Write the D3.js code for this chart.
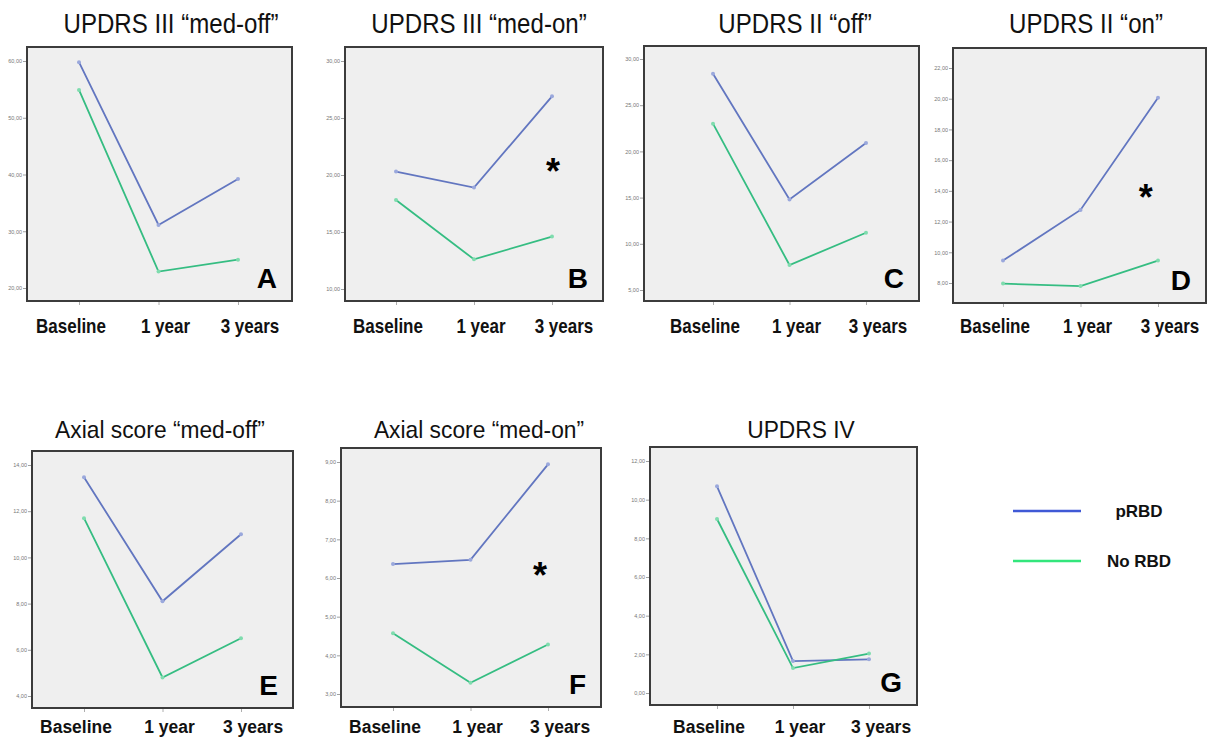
<!DOCTYPE html>
<html>
<head>
<meta charset="utf-8">
<script src="https://cdn.jsdelivr.net/npm/d3@7"></script>
<style>
  body { margin: 0; background: #fff; }
  svg { display: block; font-family: "Liberation Sans", Arial, sans-serif; }
</style>
</head>
<body>
<div id="chart"></div>
<script>
// Data
var categories = ["Baseline", "1 year", "3 years"];
var panelTitles = ["UPDRS III \u201cmed-off\u201d", "UPDRS III \u201cmed-on\u201d", "UPDRS II \u201coff\u201d", "UPDRS II \u201con\u201d",
    "Axial score \u201cmed-off\u201d", "Axial score \u201cmed-on\u201d", "UPDRS IV"];
var panelLetters = ["A", "B", "C", "D", "E", "F", "G"];
var seriesNames = ["pRBD", "No RBD"];

var pRBDValues = [
    [59.8, 31.1, 39.2],
    [20.3, 18.9, 26.9],
    [28.4, 14.8, 20.9],
    [9.46, 12.76, 20.06],
    [13.47, 8.1, 11.0],
    [6.36, 6.47, 8.94],
    [10.69, 1.65, 1.74]
];
var noRBDValues = [
    [54.9, 22.9, 25.0],
    [17.8, 12.6, 14.6],
    [23.0, 7.7, 11.2],
    [7.96, 7.8, 9.46],
    [11.7, 4.8, 6.5],
    [4.57, 3.29, 4.28],
    [9.0, 1.29, 2.04]
];
var yTicks = [
    [20, 30, 40, 50, 60],
    [10, 15, 20, 25, 30],
    [5, 10, 15, 20, 25, 30],
    [8, 10, 12, 14, 16, 18, 20, 22],
    [4, 6, 8, 10, 12, 14],
    [3, 4, 5, 6, 7, 8, 9],
    [0, 2, 4, 6, 8, 10, 12]
];
// panels with a significance star
var starPanels = ["B", "D", "F"];

// Layout (pixel boxes of each frame)
var frames = [
    { x0: 27, x1: 292, y0: 47, y1: 301, p0: 79, p2: 238, tx: 171, padT: 14, padB: 13, row: 0 },
    { x0: 345, x1: 603, y0: 47, y1: 301, p0: 396, p2: 552, tx: 479, padT: 14, padB: 12, row: 0 },
    { x0: 644, x1: 919, y0: 46, y1: 301, p0: 713, p2: 866, tx: 795, padT: 13, padB: 11, row: 0 },
    { x0: 953, x1: 1206, y0: 48, y1: 303, p0: 1003, p2: 1158, tx: 1086, padT: 20, padB: 20, row: 0 },
    { x0: 32, x1: 293, y0: 451, y1: 708, p0: 84, p2: 241, tx: 160, padT: 14, padB: 12, row: 1 },
    { x0: 341, x1: 601, y0: 448, y1: 707, p0: 393, p2: 548, tx: 479, padT: 14, padB: 13, row: 1 },
    { x0: 650, x1: 917, y0: 447, y1: 705, p0: 717, p2: 869, tx: 801, padT: 14, padB: 12, row: 1 }
];
var starPos = { B: [0.806, 0.458], D: [0.762, 0.553], F: [0.765, 0.46] };
var rowStyle = [
    { titleY: 33, titleSize: 28, titleSx: 0.86, labelY: 333, labelSize: 21, labelSx: 0.81 },
    { titleY: 438, titleSize: 24, titleSx: 0.95, labelY: 733, labelSize: 19, labelSx: 0.92 }
];
var labelDx = [-8, 7, 12];

var lineColors = ["#6276c0", "#35bd82"];
var markColors = ["#9aa8dc", "#7fdcae"];
var legendColors = ["#4059d6", "#33e67c"];

var svg = d3.select("#chart").append("svg").attr("width", 1211).attr("height", 738);

var fmt = function (v) { return d3.format(".2f")(v).replace(".", ","); };

// squeezed text helper
function squeezed(g, x, y, txt, size, sx, weight) {
    return g.append("text")
        .attr("transform", "translate(" + x + "," + y + ") scale(" + sx + ",1)")
        .attr("text-anchor", "middle")
        .attr("font-size", size)
        .attr("font-weight", weight)
        .attr("fill", "#111")
        .text(txt);
}

frames.forEach(function (f, i) {
    var st = rowStyle[f.row];
    var g = svg.append("g");

    var x = d3.scalePoint().domain(categories).range([f.p0, f.p2]);
    var y = d3.scaleLinear()
        .domain(d3.extent(yTicks[i]))
        .range([f.y1 - f.padB, f.y0 + f.padT]);

    // frame
    g.append("rect")
        .attr("x", f.x0).attr("y", f.y0)
        .attr("width", f.x1 - f.x0).attr("height", f.y1 - f.y0)
        .attr("fill", "#efefef")
        .attr("stroke", "#3c3c3c")
        .attr("stroke-width", 2);

    // y axis (tiny SPSS style labels)
    var yAxis = g.append("g")
        .attr("transform", "translate(" + (f.x0 - 1) + ",0)")
        .call(d3.axisLeft(y).tickValues(yTicks[i]).tickFormat(fmt).tickSize(3).tickPadding(1));
    yAxis.select(".domain").remove();
    yAxis.selectAll("line").attr("stroke", "#888").attr("stroke-width", 0.8);
    yAxis.selectAll("text").attr("font-size", 5.5).attr("fill", "#777")
        .attr("font-family", "Liberation Sans, Arial, sans-serif");

    // x axis ticks below frame
    var xAxis = g.append("g")
        .attr("transform", "translate(0," + (f.y1 + 1) + ")")
        .call(d3.axisBottom(x).tickSize(3).tickFormat(""));
    xAxis.select(".domain").remove();
    xAxis.selectAll("line").attr("stroke", "#999").attr("stroke-width", 0.8);

    // category labels
    categories.forEach(function (c, k) {
        squeezed(g, x(c) + labelDx[k], st.labelY, c, st.labelSize, st.labelSx, "bold");
    });

    // title
    squeezed(g, f.tx, st.titleY, panelTitles[i], st.titleSize, st.titleSx, "normal");

    // lines
    var line = d3.line().x(function (d, k) { return x(categories[k]); }).y(function (d) { return y(d); });
    [pRBDValues[i], noRBDValues[i]].forEach(function (vals, s) {
        g.append("path")
            .datum(vals)
            .attr("d", line)
            .attr("fill", "none")
            .attr("stroke", lineColors[s])
            .attr("stroke-width", 1.8);
        g.selectAll(".pt" + s)
            .data(vals)
            .enter().append("circle")
            .attr("class", "pt" + s)
            .attr("cx", function (d, k) { return x(categories[k]); })
            .attr("cy", function (d) { return y(d); })
            .attr("r", 2)
            .attr("fill", markColors[s]);
    });

    // panel letter
    g.append("text")
        .attr("x", f.x1 - 15)
        .attr("y", f.y1 - 13)
        .attr("text-anchor", "end")
        .attr("font-size", 28)
        .attr("font-weight", "bold")
        .attr("fill", "#000")
        .text(panelLetters[i]);

    // significance star
    if (starPanels.indexOf(panelLetters[i]) >= 0) {
        var sp = starPos[panelLetters[i]];
        g.append("text")
            .attr("x", f.x0 + sp[0] * (f.x1 - f.x0))
            .attr("y", f.y0 + sp[1] * (f.y1 - f.y0) + 21)
            .attr("text-anchor", "middle")
            .attr("font-size", 36)
            .attr("font-weight", "bold")
            .attr("fill", "#000")
            .text("*");
    }
});

// Legend
var legend = svg.append("g");
seriesNames.forEach(function (name, s) {
    var ly = 511 + s * 50;
    legend.append("line")
        .attr("x1", 1013).attr("x2", 1081)
        .attr("y1", ly).attr("y2", ly)
        .attr("stroke", legendColors[s])
        .attr("stroke-width", 2.5);
    legend.append("text")
        .attr("x", 1139).attr("y", ly + 6)
        .attr("text-anchor", "middle")
        .attr("font-size", 17)
        .attr("font-weight", "bold")
        .attr("fill", "#111")
        .text(name);
});
</script>
</body>
</html>
